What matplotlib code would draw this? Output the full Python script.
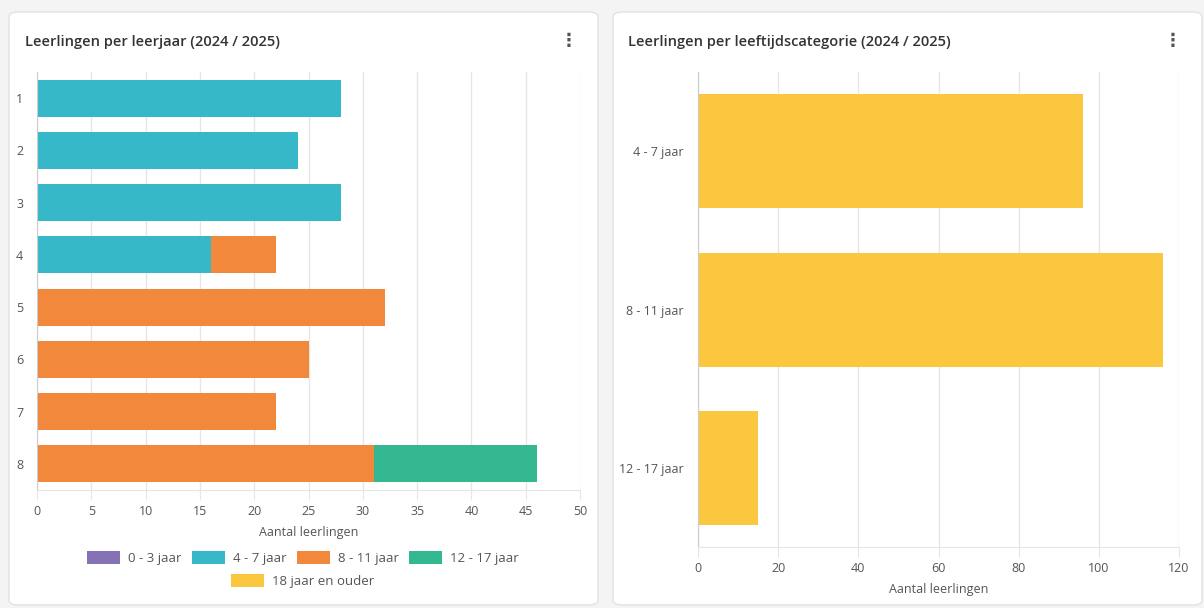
import matplotlib.pyplot as plt
from matplotlib.patches import FancyBboxPatch, Patch

plt.rcParams['font.family'] = ['Open Sans', 'DejaVu Sans']

# data
leerjaren = ['1', '2', '3', '4', '5', '6', '7', '8']
reeksen = ['0 - 3 jaar', '4 - 7 jaar', '8 - 11 jaar', '12 - 17 jaar', '18 jaar en ouder']
kleuren = ['#8572b4', '#36b8c9', '#f1883c', '#33b891', '#fbc73e']
per_leerjaar = {
    '0 - 3 jaar': [0, 0, 0, 0, 0, 0, 0, 0],
    '4 - 7 jaar': [28, 24, 28, 16, 0, 0, 0, 0],
    '8 - 11 jaar': [0, 0, 0, 6, 32, 25, 22, 31],
    '12 - 17 jaar': [0, 0, 0, 0, 0, 0, 0, 15],
    '18 jaar en ouder': [0, 0, 0, 0, 0, 0, 0, 0],
}
categorieen = ['4 - 7 jaar', '8 - 11 jaar', '12 - 17 jaar']
per_categorie = [96, 116, 15]

W, H = 1204, 608
fig = plt.figure(figsize=(W / 100, H / 100), dpi=100)
fig.patch.set_facecolor('#f4f4f4')

tekst = '#555555'
grid = '#e6e6e6'


def kaart(x0, x1, y0, y1):
    p = FancyBboxPatch((x0 / W, 1 - y1 / H), (x1 - x0) / W, (y1 - y0) / H,
                       boxstyle='round,pad=0,rounding_size=0.008',
                       transform=fig.transFigure, facecolor='white',
                       edgecolor='#e2e2e2', linewidth=1, zorder=-10)
    fig.patches.append(p)


kaart(9, 598, 12, 605)
kaart(613, 1202, 12, 605)

fig.text(25 / W, 1 - 42 / H, 'Leerlingen per leerjaar (2024 / 2025)', fontsize=10.5,
         fontweight='semibold', color='#333333', va='center')
fig.text(628 / W, 1 - 42 / H, 'Leerlingen per leeftijdscategorie (2024 / 2025)', fontsize=10.5,
         fontweight='semibold', color='#333333', va='center')
for x in (569, 1173):
    fig.text(x / W, 1 - 41 / H, '⋮', fontsize=13, color='#555555', ha='center', va='center',
             family=['DejaVu Sans'], fontweight='bold')


def stijl(ax, xlim, ticks):
    ax.set_facecolor('none')
    ax.set_xlim(*xlim)
    ax.set_xticks(ticks)
    ax.grid(axis='x', color=grid, linewidth=1)
    ax.set_axisbelow(True)
    for s in ('top', 'right'):
        ax.spines[s].set_visible(False)
    ax.spines['left'].set_color('#cccccc')
    ax.spines['bottom'].set_color(grid)
    ax.tick_params(axis='x', length=7, color=grid, labelcolor=tekst, labelsize=9)
    ax.tick_params(axis='y', length=0, labelcolor=tekst, labelsize=9, pad=10)
    ax.set_xlabel('Aantal leerlingen', color=tekst, fontsize=9, labelpad=6)


# linker grafiek
ax1 = fig.add_axes([37 / W, 1 - 490 / H, (580 - 37) / W, (490 - 72) / H])
links = [0] * len(leerjaren)
for naam, kleur in zip(reeksen, kleuren):
    vals = per_leerjaar[naam]
    ax1.barh(leerjaren, vals, left=links, height=0.71, color=kleur, zorder=2)
    links = [a + b for a, b in zip(links, vals)]
ax1.set_ylim(7.5, -0.5)
stijl(ax1, (0, 50), range(0, 51, 5))

# rechter grafiek
ax2 = fig.add_axes([698 / W, 1 - 547 / H, (1179 - 698) / W, (547 - 72) / H])
ax2.barh(categorieen, per_categorie, height=0.72, color=kleuren[4], zorder=2)
ax2.set_ylim(2.5, -0.5)
stijl(ax2, (0, 120), range(0, 121, 20))

# legenda
handles = [Patch(facecolor=k, edgecolor='none') for k in kleuren]
leg_kw = dict(frameon=False, fontsize=9.5, labelcolor=tekst, handlelength=2.5,
              handleheight=1.15, handletextpad=0.6, columnspacing=0.8, borderpad=0)
fig.legend(handles[:4], reeksen[:4], ncol=4, loc='center',
           bbox_to_anchor=(303 / W, 1 - 558 / H), **leg_kw)
fig.legend(handles[4:], reeksen[4:], ncol=1, loc='center',
           bbox_to_anchor=(303 / W, 1 - 581 / H), **leg_kw)

fig.savefig('out.png', dpi=100, facecolor=fig.get_facecolor())
